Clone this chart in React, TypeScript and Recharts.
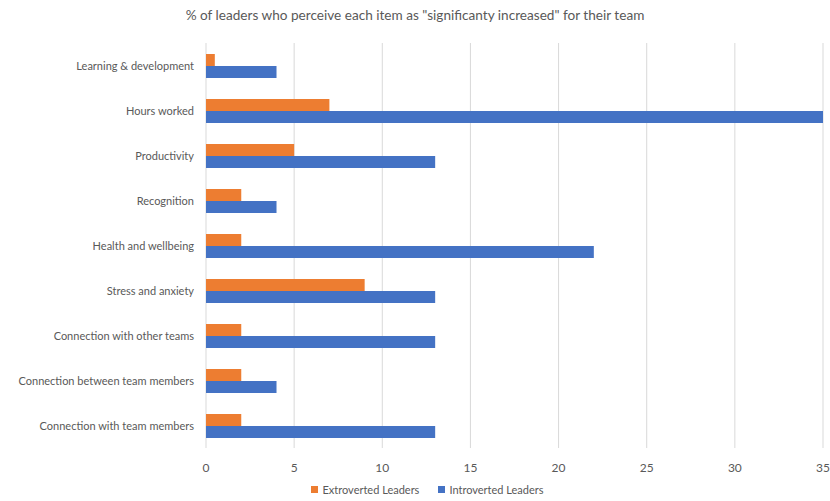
import React from "react";
import { BarChart, Bar, XAxis, YAxis, CartesianGrid, Legend } from "recharts";

const categories = [
  "Learning & development",
  "Hours worked",
  "Productivity",
  "Recognition",
  "Health and wellbeing",
  "Stress and anxiety",
  "Connection with other teams",
  "Connection between team members",
  "Connection with team members",
];
const extroverted = [0.5, 7, 5, 2, 2, 9, 2, 2, 2];
const introverted = [4, 35, 13, 4, 22, 13, 13, 4, 13];
const xTicks = [0, 5, 10, 15, 20, 25, 30, 35];
const title = '% of leaders who perceive each item as "significanty increased" for their team';

const data = categories.map((c, i) => ({
  name: c,
  extro: extroverted[i],
  intro: introverted[i],
}));

const FONT = "Lato, 'Open Sans', sans-serif";
const TEXT = "#595959";

const YTick = (props: any) => {
  const { x, y, payload } = props;
  return (
    <text x={x} y={y} dy={4} textAnchor="end" fill={TEXT} fontSize={11} fontFamily={FONT}>
      {payload.value}
    </text>
  );
};

const LegendContent = (props: any) => {
  const { payload } = props;
  return (
    <div style={{ display: "flex", justifyContent: "center", paddingLeft: 32, fontSize: 11, fontFamily: FONT, color: TEXT }}>
      {(payload || []).map((p: any, i: number) => (
        <div key={i} style={{ display: "flex", alignItems: "center", marginRight: i === 0 ? 19 : 0 }}>
          <span style={{ display: "inline-block", width: 7, height: 7, background: p.color, marginRight: 4 }} />
          <span>{p.value}</span>
        </div>
      ))}
    </div>
  );
};

export default function App() {
  return (
    <div style={{ position: "absolute", left: 0, top: 0, width: 830, height: 501, background: "#fff", fontFamily: FONT }}>
      <div style={{ position: "absolute", top: 7, left: 0, width: 830, textAlign: "center", fontSize: 13.6, color: TEXT }}>
        {title}
      </div>
      <BarChart
        width={830}
        height={501}
        data={data}
        layout="vertical"
        margin={{ top: 43, right: 7, bottom: 0, left: 0 }}
        barGap={0}
        barSize={12}
      >
        <CartesianGrid horizontal={false} vertical stroke="#d9d9d9" />
        <XAxis
          type="number"
          domain={[0, 35]}
          ticks={xTicks}
          axisLine={false}
          tickLine={false}
          tick={{ fill: TEXT, fontSize: 12, fontFamily: FONT }}
          height={35}
          tickMargin={9}
        />
        <YAxis
          type="category"
          dataKey="name"
          width={206}
          axisLine={false}
          tickLine={false}
          tickSize={10}
          tickMargin={2}
          tick={<YTick />}
        />
        <Legend verticalAlign="bottom" align="center" height={18} content={<LegendContent />} />
        <Bar dataKey="extro" name="Extroverted Leaders" fill="#ED7D31" isAnimationActive={false} />
        <Bar dataKey="intro" name="Introverted Leaders" fill="#4472C4" isAnimationActive={false} />
      </BarChart>
    </div>
  );
}
